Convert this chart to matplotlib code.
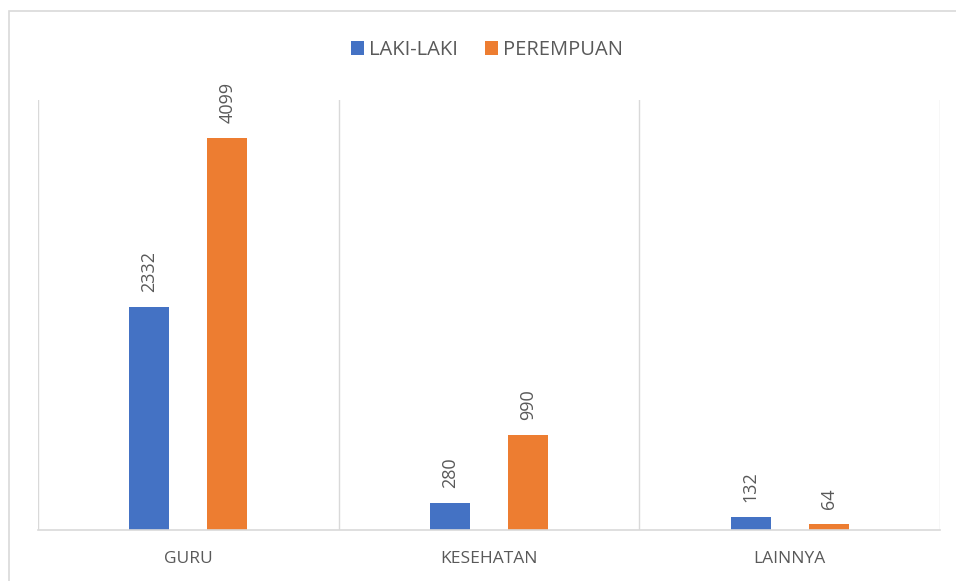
import numpy as np
import matplotlib
matplotlib.use('Agg')
import matplotlib.pyplot as plt
from matplotlib.patches import Rectangle

categories = ['GURU', 'KESEHATAN', 'LAINNYA']
laki = [2332, 280, 132]
perempuan = [4099, 990, 64]
series_names = ['LAKI-LAKI', 'PEREMPUAN']

plt.rcParams['font.family'] = ['Open Sans', 'DejaVu Sans']

fig = plt.figure(figsize=(9.56, 5.81), dpi=100)
ax = fig.add_axes([38 / 956, 51 / 581, 902 / 956, 430 / 581])

# chart area border (cropped at right/bottom)
fig.patches.append(Rectangle((9 / 956, -0.2), 1.2, 1.2 - 11 / 581,
                             transform=fig.transFigure, fill=False,
                             edgecolor='#D9D9D9', linewidth=1.2))

x = np.arange(len(categories))
w = 0.133
off = 0.13
b1 = ax.bar(x - off, laki, w, color='#4472C4', label=series_names[0])
b2 = ax.bar(x + off, perempuan, w, color='#ED7D31', label=series_names[1])

for bars in (b1, b2):
    for r in bars:
        ax.annotate(str(int(r.get_height())),
                    (r.get_x() + r.get_width() / 2, r.get_height()),
                    xytext=(0, 11), textcoords='offset points',
                    rotation=90, ha='center', va='bottom',
                    fontsize=13, color='#595959')

ax.set_xlim(-0.5, 2.5)
ax.set_ylim(0, 4500)
ax.set_yticks([])
ax.set_xticks(x)
ax.set_xticklabels(categories, fontsize=12.5, color='#595959')
ax.tick_params(axis='x', length=0, pad=15)
ax.set_xticks([-0.5, 0.5, 1.5, 2.5], minor=True)
ax.tick_params(axis='x', which='minor', length=0)
ax.grid(True, axis='x', which='minor', color='#D9D9D9', linewidth=1)
ax.set_axisbelow(True)
for s in ['top', 'left', 'right']:
    ax.spines[s].set_visible(False)
ax.spines['bottom'].set_color('#D9D9D9')
ax.spines['bottom'].set_linewidth(1.2)

fig.legend(loc='center', bbox_to_anchor=(487 / 956, 1 - 50 / 581), ncol=2,
           frameon=False, fontsize=14.5, handlelength=0.65, handleheight=0.65,
           handletextpad=0.25, columnspacing=1.3, labelcolor='#595959')

plt.savefig('out.png', dpi=100)
